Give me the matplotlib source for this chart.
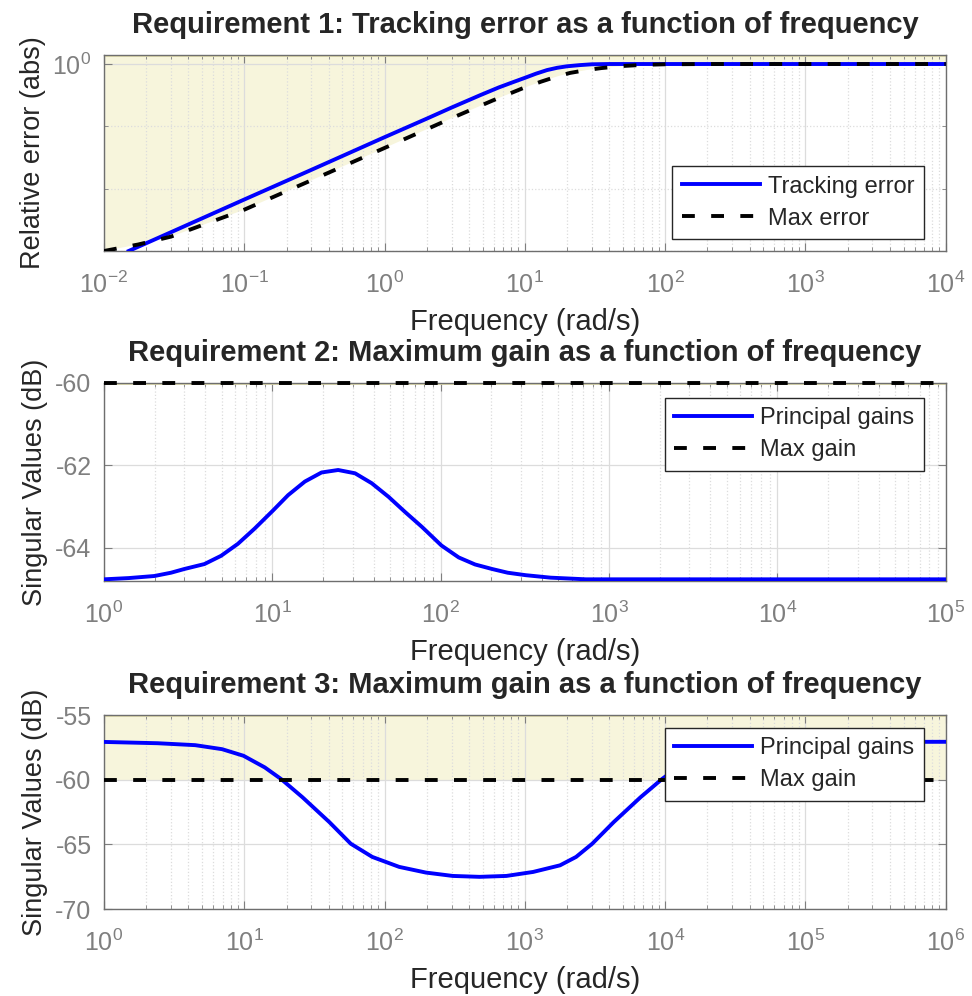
import matplotlib
matplotlib.use("Agg")
import matplotlib.pyplot as plt
from matplotlib.ticker import FixedLocator, LogLocator, NullFormatter
import numpy as np

plt.rcParams['font.family'] = ['Liberation Sans', 'DejaVu Sans']
plt.rcParams['mathtext.fontset'] = 'custom'
plt.rcParams['mathtext.rm'] = 'Liberation Sans'
plt.rcParams['mathtext.it'] = 'Liberation Sans'
plt.rcParams['axes.unicode_minus'] = False

# Requirement 1: tracking error (abs)
w1_track = [0.015, 0.03, 0.1, 0.3, 1, 2, 3, 4.8, 6.5, 8.2, 10, 12, 14.4, 17, 20, 24.6, 30, 40, 100, 1e4]
e1_track = [1.0e-3, 2.0e-3, 6.7e-3, 0.02, 0.067, 0.133, 0.2, 0.316, 0.42, 0.51, 0.6, 0.7,
            0.8, 0.87, 0.92, 0.96, 0.99, 1.0, 1.0, 1.0]
w1_max = [0.01, 0.0175, 0.03, 0.1, 0.3, 1, 2, 3, 5.9, 9.7, 13, 16.9, 21, 27.5, 35, 50, 70, 100, 200, 1e4]
e1_max = [1.0e-3, 1.27e-3, 1.7e-3, 4.6e-3, 0.0136, 0.045, 0.09, 0.135, 0.26, 0.41, 0.52, 0.63,
          0.72, 0.8, 0.86, 0.93, 0.97, 0.99, 1.0, 1.0]

# Requirement 2: principal gains (dB)
w2 = [1, 1.4, 1.99, 2.5, 3.0, 3.95, 4.96, 6.24, 7.85, 10.1, 12.4, 15.6, 19.6, 24.6, 31, 38.9, 49,
      61.5, 77.4, 101, 128, 160, 202, 250, 320, 450, 729, 1e5]
g2 = [-64.76, -64.73, -64.68, -64.6, -64.51, -64.39, -64.19, -63.9, -63.53, -63.09, -62.72,
      -62.39, -62.17, -62.11, -62.19, -62.43, -62.76, -63.13, -63.49, -63.94, -64.23, -64.4,
      -64.51, -64.6, -64.66, -64.72, -64.76, -64.76]
max2 = -60

# Requirement 3: principal gains (dB)
w3 = [1, 2.41, 4.47, 6.94, 9.87, 14.0, 18.3, 26, 40.4, 57.4, 81.7, 127, 197, 306, 475, 738,
      1146, 1780, 2318, 3020, 4295, 6668, 9490, 12300, 17400, 25100, 38900, 72400, 174000, 1e6]
g3 = [-57.08, -57.18, -57.33, -57.64, -58.15, -59.05, -59.95, -61.36, -63.28, -64.95, -65.97,
      -66.74, -67.18, -67.44, -67.51, -67.44, -67.13, -66.62, -65.97, -64.95, -63.28, -61.36,
      -59.95, -59.05, -58.15, -57.64, -57.33, -57.18, -57.08, -57.07]
max3 = -60

fill_col = '#f7f5dc'
fill_edge = '#e2ddaa'
tick_col = '#7f7f7f'
txt_col = '#262626'
dash = (0, (3.3, 4.2))

fig = plt.figure(figsize=(9.72, 9.96), dpi=100)
ax1 = fig.add_axes([0.107, 0.748, 0.866, 0.1968])
ax2 = fig.add_axes([0.107, 0.4167, 0.866, 0.1988])
ax3 = fig.add_axes([0.107, 0.0873, 0.866, 0.1948])


def style(ax, title):
    ax.set_xscale('log')
    ax.tick_params(which='both', direction='in', top=True, right=True,
                   colors=tick_col, labelsize=18)
    ax.tick_params(axis='x', which='both', pad=15)
    ax.tick_params(axis='y', which='both', pad=9)
    ax.tick_params(which='major', length=6)
    ax.tick_params(which='minor', length=3)
    ax.xaxis.set_minor_locator(LogLocator(base=10, subs=np.arange(2, 10)))
    ax.xaxis.set_minor_formatter(NullFormatter())
    ax.grid(True, which='major', color='#dcdcdc', lw=0.9)
    ax.grid(True, which='minor', axis='x', color='#dcdcdc', lw=0.9, ls=':')
    for s in ax.spines.values():
        s.set_color('#6e6e6e')
        s.set_linewidth(1.0)
    ax.set_axisbelow(True)
    ax.set_xlabel('Frequency (rad/s)', fontsize=21, color=txt_col, labelpad=7)
    ax.set_title(title, fontsize=21, fontweight='bold', color=txt_col, pad=16)


def add_legend(ax, loc, anchor):
    leg = ax.legend(loc=loc, bbox_to_anchor=anchor, borderaxespad=0, fontsize=17,
                    frameon=True, fancybox=False, framealpha=1, facecolor='white',
                    edgecolor=txt_col, handlelength=3.3, borderpad=0.4, labelspacing=0.42,
                    handletextpad=0.35)
    leg.get_frame().set_linewidth(1.0)
    for t in leg.get_texts():
        t.set_color(txt_col)


# ---- panel 1
ax = ax1
style(ax, 'Requirement 1: Tracking error as a function of frequency')
ax.set_yscale('log')
ytop = 10**0.145
ax.set_xlim(1e-2, 1e4)
ax.set_ylim(1e-3, ytop)
ax.fill_between(w1_max, e1_max, ytop, color=fill_col, edgecolor='none', zorder=0.5)
ax.axhline(ytop, color=fill_edge, lw=2, zorder=0.6)
ax.plot(w1_track, e1_track, color='#0000ff', lw=2.8, label='Tracking error', zorder=3)
ax.plot(w1_max, e1_max, color='black', lw=2.8, ls=dash, label='Max error', zorder=3)
ax.yaxis.set_major_locator(FixedLocator([1]))
ax.yaxis.set_minor_locator(FixedLocator([1e-3, 1e-2, 1e-1]))
ax.yaxis.set_minor_formatter(NullFormatter())
ax.grid(True, which='minor', axis='y', color='#dcdcdc', lw=0.9, ls=':')
ax.set_ylabel('Relative error (abs)', fontsize=19.5, color=txt_col, labelpad=5)
add_legend(ax, 'lower right', (0.974, 0.061))

# ---- panel 2
ax = ax2
style(ax, 'Requirement 2: Maximum gain as a function of frequency')
ax.set_xlim(1, 1e5)
ax.set_ylim(-64.8, -60)
ax.axhline(-60, color=fill_edge, lw=2, zorder=0.6)
ax.plot(w2, g2, color='#0000ff', lw=2.8, label='Principal gains', zorder=3)
ax.axhline(max2, color='black', lw=2.8, ls=dash, label='Max gain', zorder=3, clip_on=False)
ax.set_yticks([-64, -62, -60])
ax.set_ylabel('Singular Values (dB)', fontsize=19.5, color=txt_col, labelpad=5)
add_legend(ax, 'upper right', (0.974, 0.924))

# ---- panel 3
ax = ax3
style(ax, 'Requirement 3: Maximum gain as a function of frequency')
ax.set_xlim(1, 1e6)
ax.set_ylim(-70, -55)
ax.axhspan(max3, -55, color=fill_col, zorder=0.5, lw=0)
ax.axhline(-55, color=fill_edge, lw=2, zorder=0.6)
ax.plot(w3, g3, color='#0000ff', lw=2.8, label='Principal gains', zorder=3)
ax.axhline(max3, color='black', lw=2.8, ls=dash, label='Max gain', zorder=3)
ax.set_yticks([-70, -65, -60, -55])
ax.set_ylabel('Singular Values (dB)', fontsize=19.5, color=txt_col, labelpad=5)
add_legend(ax, 'upper right', (0.974, 0.933))

fig.savefig('out.png', dpi=100)
